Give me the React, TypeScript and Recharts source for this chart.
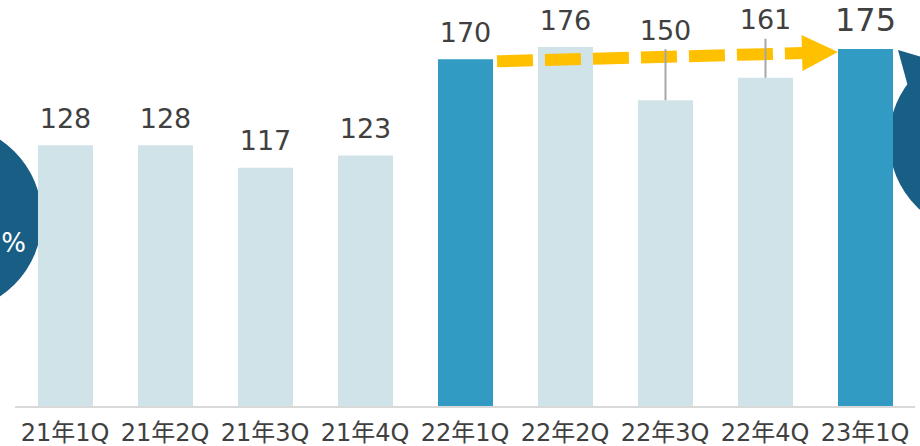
import React from 'react';
import { BarChart, Bar, XAxis, YAxis, Cell, LabelList, ReferenceLine } from 'recharts';

const quarters = ['21年1Q', '21年2Q', '21年3Q', '21年4Q', '22年1Q', '22年2Q', '22年3Q', '22年4Q', '23年1Q'];
const sales = [128, 128, 117, 123, 170, 176, 150, 161, 175];
const highlighted = ['22年1Q', '23年1Q'];
const trendFrom = { quarter: '22年1Q', value: 170 };
const trendTo = { quarter: '23年1Q', value: 175 };

const data = quarters.map((quarter, i) => ({ quarter, value: sales[i] }));

const FONT = '"DejaVu Sans", "Noto Sans CJK JP", sans-serif';
const TEXT = '#404040';
const LIGHT = '#d0e3e9';
const DARK = '#319bc3';
const CIRCLE = '#185e85';
const ARROW = '#ffc000';

// labels pushed up above the arrow, with a thin leader line to the bar
const liftedLabels: Record<string, number> = { '22年3Q': 70, '22年4Q': 58 };

const ValueLabel = (props: any) => {
  const { x, y, width, value, index } = props;
  const q = quarters[index];
  const cx = x + width / 2;
  const last = q === '23年1Q';
  const lift = liftedLabels[q];
  const ty = y - (lift ?? (last ? 29 : 27));
  return (
    <g>
      {lift && <line x1={cx} x2={cx} y1={y} y2={ty + 19} stroke="#a6a6a6" strokeWidth={2} />}
      <text
        x={cx}
        y={ty}
        textAnchor="middle"
        dominantBaseline="central"
        fill={TEXT}
        fontFamily={FONT}
        fontSize={last ? 32 : 27}
      >
        {value}
      </text>
    </g>
  );
};

const TrendArrow = (props: any) => {
  const { x1, y1, x2, y2 } = props;
  const sx = x1 + 32;
  const sy = y1 + 2;
  const tx = x2 - 27;
  const ty = y2 + 3;
  const headLen = 36;
  const ang = Math.atan2(ty - sy, tx - sx);
  const bx = tx - headLen * Math.cos(ang);
  const by = ty - headLen * Math.sin(ang);
  const nx = -Math.sin(ang) * 18;
  const ny = Math.cos(ang) * 18;
  return (
    <g>
      <line x1={sx} y1={sy} x2={bx + 2} y2={by} stroke={ARROW} strokeWidth={12} strokeDasharray="36 12" />
      <polygon points={`${tx},${ty} ${bx + nx},${by + ny} ${bx - nx},${by - ny}`} fill={ARROW} />
    </g>
  );
};

export default function App() {
  return (
    <div style={{ position: 'absolute', left: 0, top: 0, width: 920, height: 446, overflow: 'hidden', background: '#fff' }}>
      <svg width={920} height={446} style={{ position: 'absolute', left: 0, top: 0 }}>
        <circle cx={-52} cy={218} r={94} fill={CIRCLE} />
        <text x={26} y={243} textAnchor="end" dominantBaseline="central" fill="#fff" fontFamily={FONT} fontSize={26}>
          %
        </text>
        <polygon points="898,50 960,68 915,112" fill={CIRCLE} />
        <circle cx={983} cy={140} r={94} fill={CIRCLE} />
      </svg>
      <div style={{ position: 'absolute', left: 0, top: 0 }}>
        <BarChart width={920} height={446} data={data} margin={{ top: 0, right: 5, left: 15, bottom: 0 }} barSize={55}>
          <XAxis
            dataKey="quarter"
            axisLine={{ stroke: '#d9d9d9', strokeWidth: 2 }}
            tickLine={false}
            height={39}
            tickMargin={11}
            tick={{ fill: TEXT, fontSize: 24, fontFamily: FONT }}
            interval={0}
          />
          <YAxis hide domain={[0, 199]} />
          <Bar dataKey="value" isAnimationActive={false}>
            {data.map((d) => (
              <Cell key={d.quarter} fill={highlighted.includes(d.quarter) ? DARK : LIGHT} />
            ))}
            <LabelList dataKey="value" content={<ValueLabel />} />
          </Bar>
          <ReferenceLine
            segment={[
              { x: trendFrom.quarter, y: trendFrom.value },
              { x: trendTo.quarter, y: trendTo.value },
            ]}
            ifOverflow="visible"
            shape={(p: any) => <TrendArrow {...p} />}
          />
        </BarChart>
      </div>
    </div>
  );
}
